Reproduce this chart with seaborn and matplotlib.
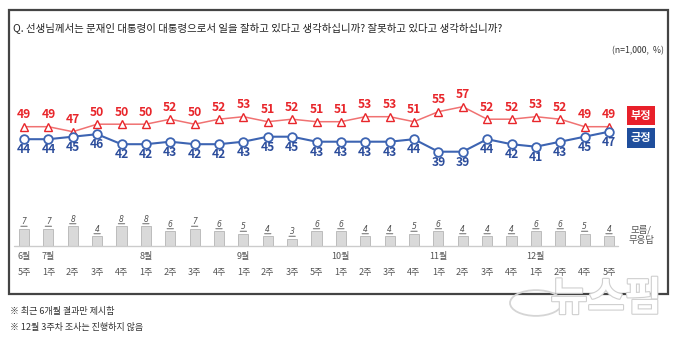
import matplotlib
matplotlib.use("Agg")
import matplotlib.pyplot as plt
import matplotlib.patheffects as pe
from matplotlib.patches import Rectangle
import seaborn as sns
import pandas as pd
import numpy as np

# ---- data ----
months = ["6월", "7월", "", "", "", "8월", "", "", "", "9월", "", "", "", "10월", "", "", "", "11월", "", "", "", "12월", "", "", ""]
weeks = ["5주", "1주", "2주", "3주", "4주", "1주", "2주", "3주", "4주", "1주", "2주", "3주", "5주",
         "1주", "2주", "3주", "4주", "1주", "2주", "3주", "4주", "1주", "2주", "4주", "5주"]
negative = [49, 49, 47, 50, 50, 50, 52, 50, 52, 53, 51, 52, 51, 51, 53, 53, 51, 55, 57, 52, 52, 53, 52, 49, 49]
positive = [44, 44, 45, 46, 42, 42, 43, 42, 42, 43, 45, 45, 43, 43, 43, 43, 44, 39, 39, 44, 42, 41, 43, 45, 47]
unknown = [7, 7, 8, 4, 8, 8, 6, 7, 6, 5, 4, 3, 6, 6, 4, 4, 5, 6, 4, 4, 4, 6, 6, 5, 4]

title = "Q. 선생님께서는 문재인 대통령이 대통령으로서 일을 잘하고 있다고 생각하십니까? 잘못하고 있다고 생각하십니까?"
note = "(n=1,000,  %)"
footnotes = ["※ 최근 6개월 결과만 제시함", "※ 12월 3주차 조사는 진행하지 않음"]

sns.set_style("white")
plt.rcParams['font.family'] = ['Noto Sans CJK KR', 'DejaVu Sans']

W, H = 680, 337
fig = plt.figure(figsize=(W / 100, H / 100), dpi=100)

RED_TXT = "#e8262b"
RED_LN = "#f07272"
BLUE_TXT = "#2b4c9b"
BLUE_LN = "#3d64b2"

def fx(px):
    return px / W

def fy(py):
    return 1 - py / H

# x mapping: index 0 -> px 24, index 24 -> px 609
ax_left, ax_right = 12, 620
scale = (609 - 24) / 24
xmin = -(24 - ax_left) / scale
xmax = 24 + (ax_right - 609) / scale

# ---- frame ----
fig.patches.append(Rectangle((fx(9), fy(294)), fx(668) - fx(9), fy(10) - fy(294),
                             transform=fig.transFigure, fill=False, edgecolor="#444444",
                             linewidth=1.6, zorder=0))

fig.text(fx(13), fy(28), title, fontsize=7.5, color="#222222", va="center", ha="left")
fig.text(fx(664), fy(51), note, fontsize=6.3, color="#333333", va="center", ha="right")

# ---- line axes ----
top_px, bot_px = 90, 160
ax = fig.add_axes([fx(ax_left), fy(bot_px), fx(ax_right) - fx(ax_left), (bot_px - top_px) / H])
vmin = 49 - (bot_px - 126.7) / 2.5
vmax = 49 + (126.7 - top_px) / 2.5
df = pd.DataFrame({"idx": np.arange(len(negative)), "neg": negative, "pos": positive})
sns.lineplot(data=df, x="idx", y="neg", ax=ax, color=RED_LN, linewidth=1.1, marker="^",
             markersize=6, markerfacecolor="white", markeredgecolor=RED_TXT, markeredgewidth=1.0)
sns.lineplot(data=df, x="idx", y="pos", ax=ax, color=BLUE_LN, linewidth=1.5, marker="o",
             markersize=6.2, markerfacecolor="white", markeredgecolor=BLUE_LN, markeredgewidth=1.3)
for i, (n, p) in enumerate(zip(negative, positive)):
    ax.annotate(str(n), (i, n), xytext=(0, 8.5), textcoords="offset points", ha="center",
                va="center", fontsize=8.7, color=RED_TXT, fontweight="bold")
    ax.annotate(str(p), (i, p), xytext=(0, -7.5), textcoords="offset points", ha="center",
                va="center", fontsize=8.7, color=BLUE_TXT, fontweight="bold")
ax.set_xlim(xmin, xmax)
ax.set_ylim(vmin, vmax)
ax.axis("off")

# legend boxes
fig.text(fx(641), fy(115.5), "부정", fontsize=8, color="white", fontweight="bold", ha="center", va="center",
         bbox=dict(boxstyle="square,pad=0.3", facecolor="#e8202a", edgecolor="none"))
fig.text(fx(641), fy(138), "긍정", fontsize=8, color="white", fontweight="bold", ha="center", va="center",
         bbox=dict(boxstyle="square,pad=0.3", facecolor="#1f4e9c", edgecolor="none"))

# ---- bar axes ----
btop, bbase = 212, 246
bax = fig.add_axes([fx(ax_left), fy(bbase), fx(ax_right) - fx(ax_left), (bbase - btop) / H])
bdf = pd.DataFrame({"idx": np.arange(len(unknown)), "v": unknown})
sns.barplot(data=bdf, x="idx", y="v", ax=bax, color="#d9d9d9", edgecolor="#b5b5b5",
            linewidth=0.6, width=0.42, saturation=1, native_scale=True)
for i, v in enumerate(unknown):
    bax.annotate(str(v), (i, v), xytext=(0, 4.8), textcoords="offset points", ha="center",
                 va="center", fontsize=5.5, color="#555555", fontstyle="italic",
                 family=["DejaVu Sans"])
    bax.annotate("", xy=(i - 0.13, v), xytext=(i + 0.13, v), textcoords="data",
                 arrowprops=dict(arrowstyle="-", color="#666666", linewidth=0.7,
                                 shrinkA=0, shrinkB=0),
                 annotation_clip=False)
bax.set_xlim(xmin, xmax)
bax.set_ylim(0, (bbase - btop) / 2.5)
bax.axis("off")
bax.plot([xmin + 0.1, xmax - 0.1], [0, 0], color="#cccccc", linewidth=1.0, clip_on=False)

# move the underline marks a little above the bars
for ln in bax.texts:
    pass
for ch in bax.get_children():
    if isinstance(ch, matplotlib.text.Annotation) and ch.get_text() == "":
        ch.xy = (ch.xy[0], ch.xy[1] + 0.9)
        ch.set_position((ch.get_position()[0], ch.get_position()[1] + 0.9))

for i, (m, w) in enumerate(zip(months, weeks)):
    xpx = 24 + i * scale
    if m:
        fig.text(fx(xpx), fy(257), m, fontsize=6.5, color="#555555", ha="center", va="center")
    fig.text(fx(xpx), fy(272), w, fontsize=6.5, color="#555555", ha="center", va="center")

fig.text(fx(641), fy(235), "모름/\n무응답", fontsize=6.8, color="#555555", ha="center", va="center",
         linespacing=1.1)

# footnotes
fig.text(fx(10), fy(311), footnotes[0], fontsize=6.5, color="#333333", ha="left", va="center")
fig.text(fx(10), fy(327), footnotes[1], fontsize=6.5, color="#333333", ha="left", va="center")

# watermark
fig.text(fx(606), fy(299), "뉴스핌", fontsize=29, color="white", fontweight="bold", ha="center",
         va="center", path_effects=[pe.withStroke(linewidth=1.6, foreground="#cfcfcf")], zorder=5)
fig.patches.append(plt.Circle((fx(536), fy(303)), 26 / W, transform=fig.transFigure, fill=False,
                              edgecolor="#d5d5d5", linewidth=1.3, zorder=5))

fig.savefig("out.png", dpi=100, facecolor="white")
